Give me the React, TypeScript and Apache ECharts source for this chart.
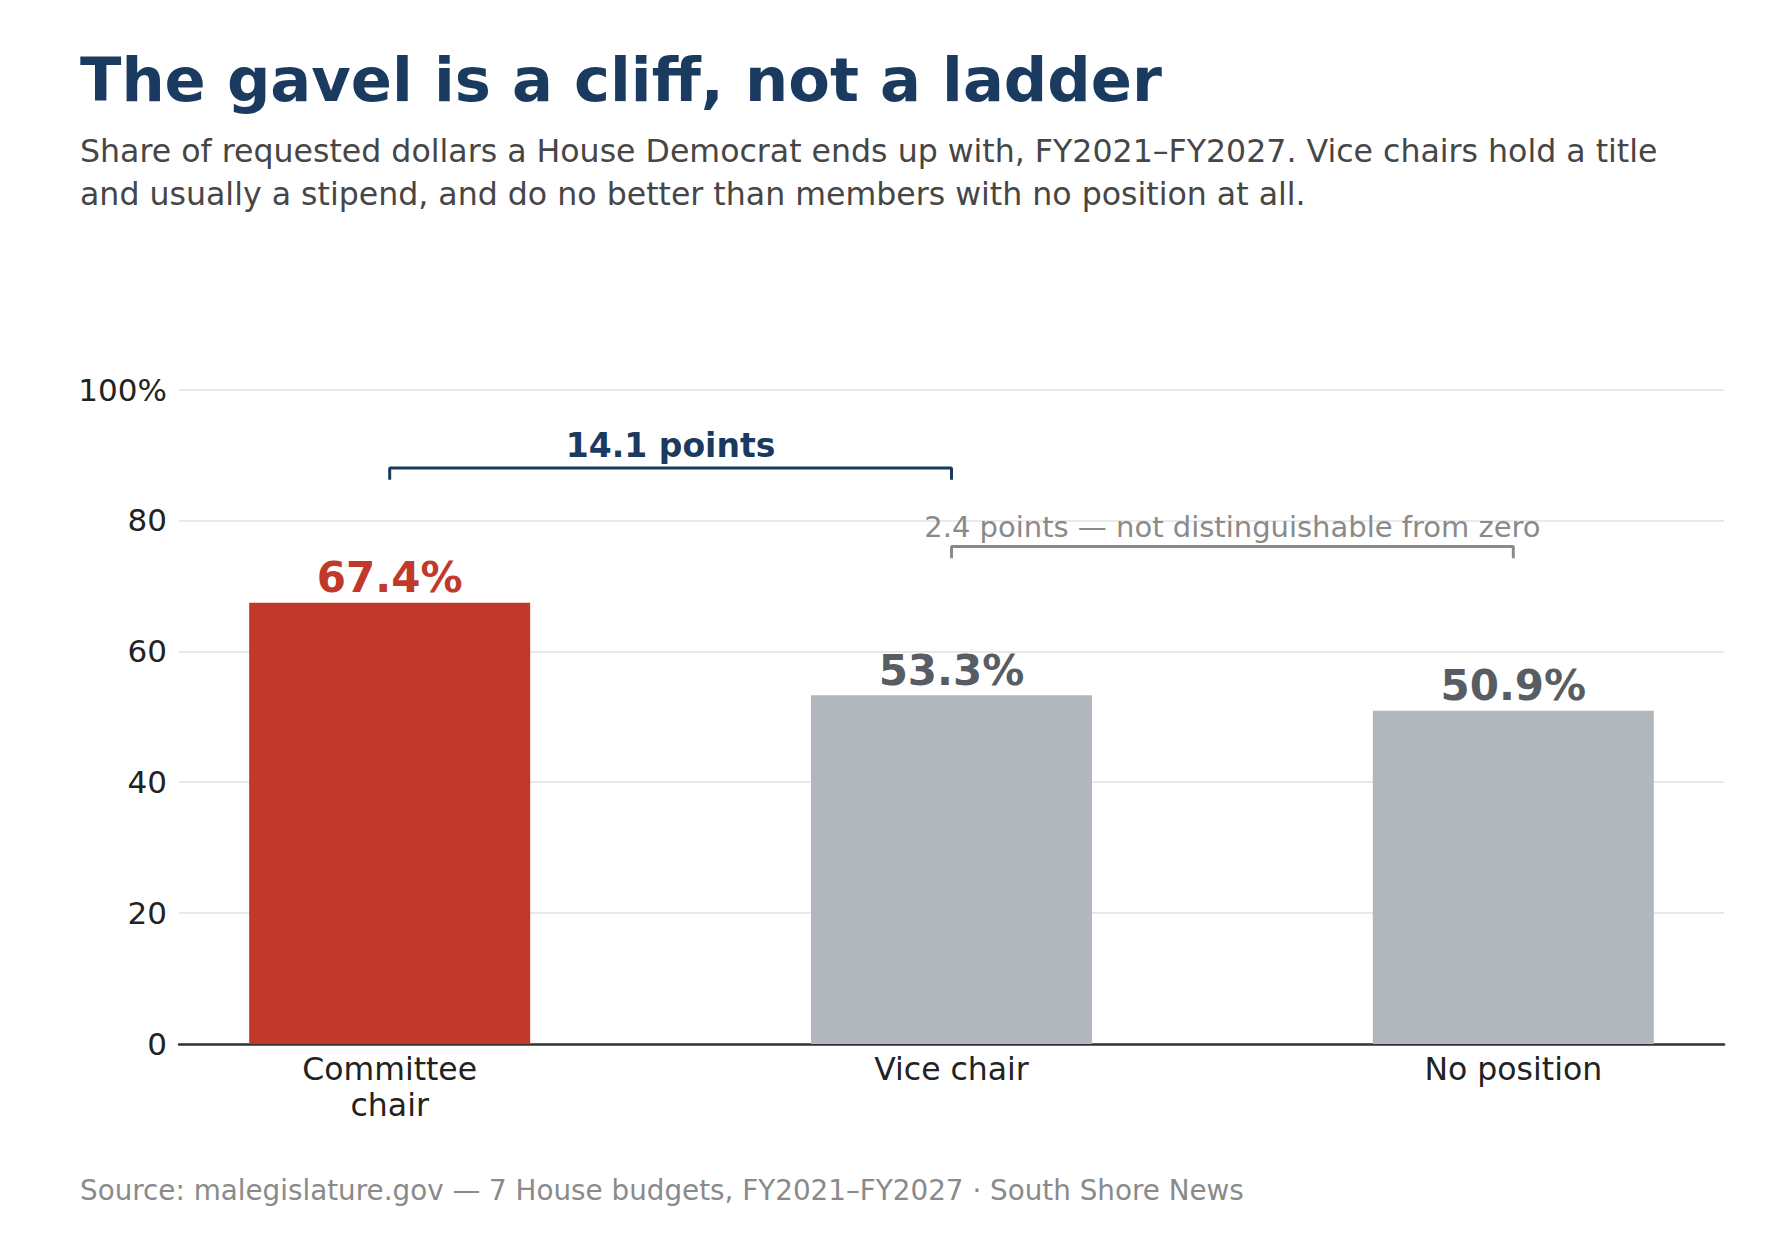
import React, { useEffect, useRef } from "react";
import * as echarts from "echarts";

// ---- data ----
const categories = ["Committee\nchair", "Vice chair", "No position"];
const shares = [67.4, 53.3, 50.9];
const yTicks = [0, 20, 40, 60, 80, 100];
const titleText = "The gavel is a cliff, not a ladder";
const subtitleLines = [
  "Share of requested dollars a House Democrat ends up with, FY2021–FY2027. Vice chairs hold a title",
  "and usually a stipend, and do no better than members with no position at all.",
];
const sourceText =
  "Source: malegislature.gov — 7 House budgets, FY2021–FY2027 · South Shore News";
const bigGapSuffix = " points";
const smallGapSuffix = " points — not distinguishable from zero";
const highlightIndex = 0;

// ---- styles ----
const FONT = "DejaVu Sans";
const NAVY = "#1b3a5f";
const RED = "#c0392b";
const GREY_BAR = "#b2b6bd";
const GREY_LABEL = "#585d63";
const NOTE_GREY = "#8a8a8a";
const W = 1786;
const H = 1235;

export default function App() {
  const ref = useRef<HTMLDivElement>(null);

  useEffect(() => {
    if (!ref.current) return;
    const chart = echarts.init(ref.current, undefined, { renderer: "svg" });

    const bigGap = shares[0] - shares[1];
    const smallGap = shares[1] - shares[2];
    const drop = 1.8;
    const bracket1 = { from: 0, to: 1, y: 88, textY: 91.4 };
    const bracket2 = { from: 1, to: 2, y: 76, textY: 79.0 };

    const option: any = {
      animation: false,
      backgroundColor: "#ffffff",
      textStyle: { fontFamily: FONT },
      grid: {
        left: 179,
        right: 62,
        top: 389.5,
        bottom: 191,
        containLabel: false,
        outerBoundsMode: "none",
      },
      xAxis: {
        type: "value",
        min: -0.375,
        max: 2.375,
        axisLine: { show: true, onZero: false, lineStyle: { color: "#333333", width: 2.5 } },
        axisTick: { show: false },
        splitLine: { show: false },
        axisLabel: {
          show: true,
          customValues: [0, 1, 2],
          formatter: (v: number) => categories[Math.round(v)] ?? "",
          fontFamily: FONT,
          fontSize: 31.5,
          lineHeight: 36,
          color: "#222222",
          margin: 7,
        },
      },
      yAxis: {
        type: "value",
        min: 0,
        max: 100,
        interval: 20,
        axisLine: { show: false },
        axisTick: { show: false },
        splitLine: { show: true, lineStyle: { color: "#e9e9e9", width: 2 } },
        axisLabel: {
          fontFamily: FONT,
          fontSize: 31,
          color: "#222222",
          margin: 12,
          formatter: (v: number) =>
            yTicks.includes(v) ? (v === 100 ? "100%" : String(v)) : "",
        },
      },
      graphic: [
        {
          type: "text",
          x: 80,
          y: 79.5,
          style: {
            text: titleText,
            fontFamily: FONT,
            fontSize: 60.7,
            fontWeight: "bold",
            fill: NAVY,
            align: "left",
            verticalAlign: "middle",
          },
        },
        ...subtitleLines.map((line, i) => ({
          type: "text",
          x: 80,
          y: 151 + i * 43,
          style: {
            text: line,
            fontFamily: FONT,
            fontSize: 31.6,
            fill: "#464646",
            align: "left",
            verticalAlign: "middle",
          },
        })),
        {
          type: "text",
          x: 80,
          y: 1190,
          style: {
            text: sourceText,
            fontFamily: FONT,
            fontSize: 27.8,
            fill: NOTE_GREY,
            align: "left",
            verticalAlign: "middle",
          },
        },
      ],
      series: [
        {
          type: "bar",
          barWidth: 281,
          z: 1,
          data: shares.map((v, i) => ({
            value: [i, v],
            itemStyle: { color: i === highlightIndex ? RED : GREY_BAR },
            label: { color: i === highlightIndex ? RED : GREY_LABEL },
          })),
          label: {
            show: true,
            position: "top",
            distance: 4,
            fontFamily: FONT,
            fontSize: 42,
            fontWeight: "bold",
            formatter: (p: any) => `${Number(p.value[1]).toFixed(1)}%`,
          },
        },
        {
          type: "line",
          symbol: "none",
          silent: true,
          z: 5,
          lineStyle: { color: NAVY, width: 3 },
          data: [
            [bracket1.from, bracket1.y - drop],
            [bracket1.from, bracket1.y],
            [bracket1.to, bracket1.y],
            [bracket1.to, bracket1.y - drop],
          ],
        },
        {
          type: "line",
          symbol: "none",
          silent: true,
          z: 5,
          lineStyle: { color: NOTE_GREY, width: 3 },
          data: [
            [bracket2.from, bracket2.y - drop],
            [bracket2.from, bracket2.y],
            [bracket2.to, bracket2.y],
            [bracket2.to, bracket2.y - drop],
          ],
        },
        {
          type: "scatter",
          symbol: "rect",
          symbolSize: 2,
          silent: true,
          z: 6,
          itemStyle: { color: "rgba(255,255,255,0)", opacity: 1 },
          label: { show: true, position: "inside", opacity: 1 },
          data: [
            {
              value: [(bracket1.from + bracket1.to) / 2, bracket1.textY],
              label: {
                show: true,
                position: "inside",
                formatter: `${bigGap.toFixed(1)}${bigGapSuffix}`,
                fontFamily: FONT,
                fontSize: 33,
                fontWeight: "bold",
                color: NAVY,
                opacity: 1,
              },
            },
            {
              value: [(bracket2.from + bracket2.to) / 2, bracket2.textY],
              label: {
                show: true,
                position: "inside",
                formatter: `${smallGap.toFixed(1)}${smallGapSuffix}`,
                fontFamily: FONT,
                fontSize: 29,
                color: NOTE_GREY,
                opacity: 1,
              },
            },
          ],
        },
      ],
    };

    chart.setOption(option);
    return () => chart.dispose();
  }, []);

  return (
    <div
      ref={ref}
      style={{ position: "fixed", left: 0, top: 0, width: W, height: H, background: "#fff" }}
    />
  );
}
